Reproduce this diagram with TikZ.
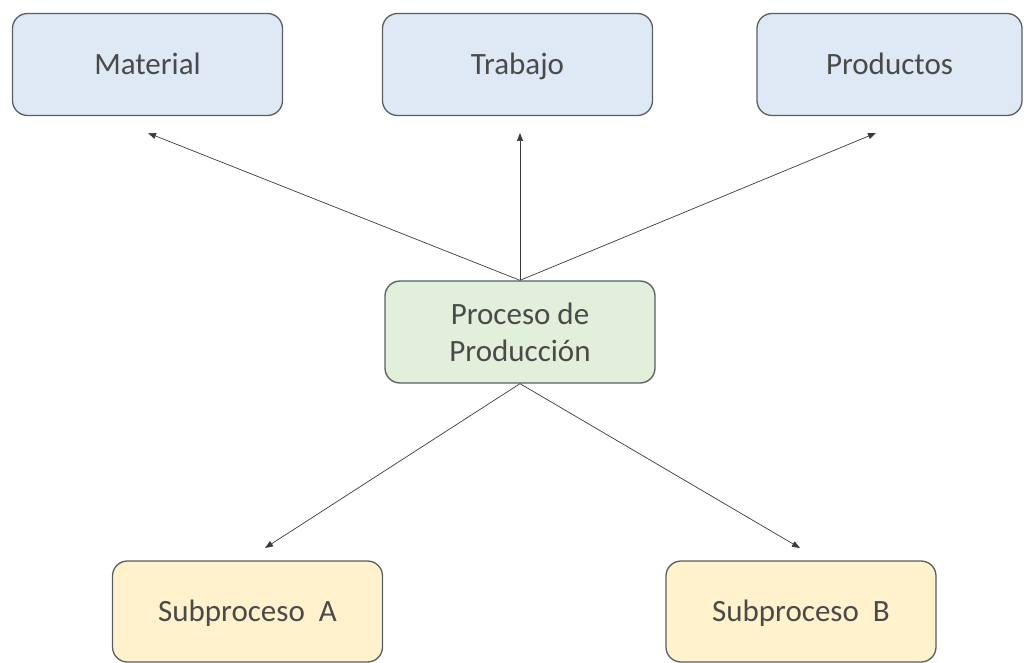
\documentclass[tikz,border=0pt]{standalone}
\usepackage{fontspec}
\setmainfont{Carlito}
\usetikzlibrary{arrows.meta}
\definecolor{boxline}{HTML}{5A5E63}
\definecolor{txt}{HTML}{4A4A4A}
\definecolor{fillblue}{HTML}{DEE9F5}
\definecolor{fillgreen}{HTML}{E2EFDA}
\definecolor{fillyellow}{HTML}{FFF2CC}
\definecolor{arrowcol}{HTML}{3A3A3A}
\begin{document}
\begin{tikzpicture}[x=1pt,y=-1pt,
  box/.style={draw=boxline, line width=1.3pt, rounded corners=15pt,
    minimum width=270pt, minimum height=102pt, inner sep=0pt,
    text=txt, font=\fontsize{31}{37}\selectfont, align=center},
  oneline/.style={text height=20pt, text depth=0pt},
  bluebox/.style={box, oneline, fill=fillblue},
  greenbox/.style={box, fill=fillgreen},
  yellowbox/.style={box, oneline, fill=fillyellow},
  link/.style={draw=arrowcol, line width=0.7pt,
    -{Triangle[length=8pt,width=6pt]}}]
\useasboundingbox (0,0) rectangle (1024,663);
\node[bluebox] (mat) at (147.5,64.5) {Material};
\node[bluebox] (trab) at (517.5,64.5) {Trabajo};
\node[bluebox, minimum width=265pt] (prod) at (889.5,64.5) {Productos};
\node[greenbox] (proc) at (520,332) {Proceso de\\Producción};
\node[yellowbox, minimum height=101pt] (suba) at (247.5,611.5) {Subproceso\ \ A};
\node[yellowbox, minimum height=101pt] (subb) at (801,611.5) {Subproceso\ \ B};
% free ends of the connectors
\coordinate (tmat) at (148,133);
\coordinate (ttrab) at (520,133);
\coordinate (tprod) at (876,133);
\coordinate (tsuba) at (265,548);
\coordinate (tsubb) at (800,548);
\draw[link] (proc.north) -- (tmat);
\draw[link] (proc.north) -- (ttrab);
\draw[link] (proc.north) -- (tprod);
\draw[link] (proc.south) -- (tsuba);
\draw[link] (proc.south) -- (tsubb);
\end{tikzpicture}
\end{document}
